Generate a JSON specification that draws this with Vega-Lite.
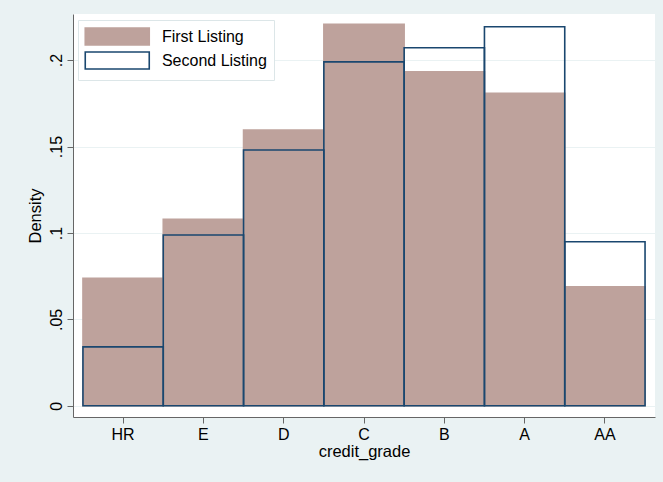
{
  "$schema": "https://vega.github.io/schema/vega-lite/v6.json",
  "autosize": "none",
  "width": 582,
  "height": 403,
  "padding": {"left": 73, "top": 14, "right": 8, "bottom": 65},
  "background": "#EAF2F3",
  "config": {"font": "Liberation Sans", "view": {"fill": "white", "stroke": null}},
  "data": {"values": [
    {"grade": "HR", "series": "First Listing", "density": 0.0737},
    {"grade": "E", "series": "First Listing", "density": 0.1079},
    {"grade": "D", "series": "First Listing", "density": 0.1595},
    {"grade": "C", "series": "First Listing", "density": 0.2207},
    {"grade": "B", "series": "First Listing", "density": 0.1933},
    {"grade": "A", "series": "First Listing", "density": 0.1808},
    {"grade": "AA", "series": "First Listing", "density": 0.0689},
    {"grade": "HR", "series": "Second Listing", "density": 0.0341},
    {"grade": "E", "series": "Second Listing", "density": 0.0988},
    {"grade": "D", "series": "Second Listing", "density": 0.148},
    {"grade": "C", "series": "Second Listing", "density": 0.199},
    {"grade": "B", "series": "Second Listing", "density": 0.2072},
    {"grade": "A", "series": "Second Listing", "density": 0.2193},
    {"grade": "AA", "series": "Second Listing", "density": 0.0949}
  ]},
  "mark": {"type": "bar", "strokeWidth": 1.6},
  "encoding": {
    "x": {
      "field": "grade", "type": "ordinal",
      "sort": ["HR", "E", "D", "C", "B", "A", "AA"],
      "scale": {"paddingInner": 0, "paddingOuter": 0.124},
      "axis": {
        "title": "credit_grade", "labelAngle": 0, "labelFontSize": 16, "labelColor": "black",
        "tickSize": 6, "tickColor": "#666666", "domainColor": "#666666", "labelPadding": 3,
        "titleFontSize": 16.5, "titleFontWeight": "normal", "titleColor": "black", "titlePadding": 1,
        "grid": false
      }
    },
    "y": {
      "field": "density", "type": "quantitative", "stack": null,
      "scale": {"domain": [-0.0065, 0.2267], "nice": false, "zero": false},
      "axis": {
        "values": [0, 0.05, 0.1, 0.15, 0.2],
        "labelExpr": "datum.value == 0 ? '0' : replace(format(datum.value, '~g'), '0.', '.')",
        "labelAngle": -90, "labelAlign": "center", "labelBaseline": "bottom",
        "labelFontSize": 16, "labelColor": "black", "labelPadding": 3,
        "tickSize": 6, "tickColor": "#666666", "domainColor": "#666666",
        "title": "Density", "titleFontSize": 16.5, "titleFontWeight": "normal", "titleColor": "black", "titlePadding": 5,
        "grid": true, "gridColor": "#EAF2F3", "gridWidth": 1.2
      }
    },
    "fill": {
      "field": "series", "type": "nominal",
      "scale": {"domain": ["First Listing", "Second Listing"], "range": ["#BEA29C", "transparent"]},
      "legend": {
        "orient": "none", "legendX": 5, "legendY": 6, "title": null, "padding": 7,
        "fillColor": "white", "strokeColor": "#DCE6E8",
        "symbolType": "M-3.765,-1H3.765V1H-3.765Z", "symbolSize": 289,
        "symbolOffset": 22.75, "labelOffset": 35.2, "labelFontSize": 16, "labelColor": "black",
        "rowPadding": -1, "symbolStrokeWidth": 1.6, "labelExpr": "datum.label + '    '"
      }
    },
    "stroke": {
      "field": "series", "type": "nominal",
      "scale": {"domain": ["First Listing", "Second Listing"], "range": ["#BEA29C", "#1A476F"]}
    }
  }
}
